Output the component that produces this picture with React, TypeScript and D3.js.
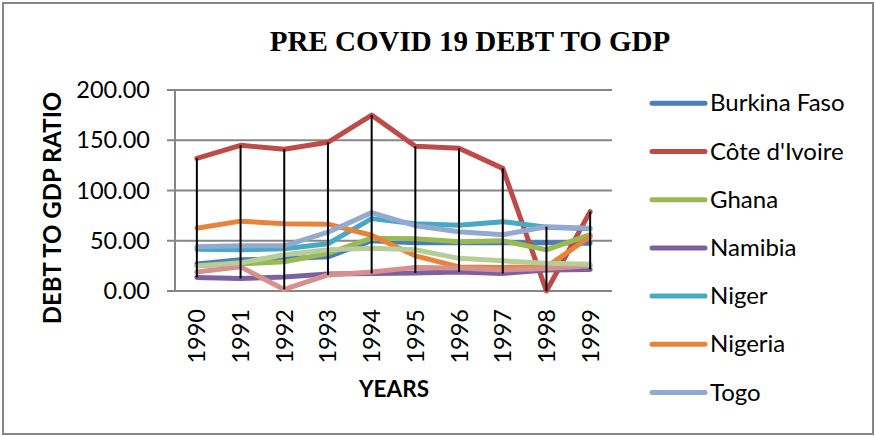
import * as d3 from 'd3'

const years = ['1990', '1991', '1992', '1993', '1994', '1995', '1996', '1997', '1998', '1999']
const yTicks = [0, 50, 100, 150, 200]

const burkinaFaso = [27, 31, 32, 34, 50, 48, 48, 48, 48, 47.5]
const coteDIvoire = [132, 145, 141, 148, 175, 144, 142, 122, 0, 79]
const ghana = [25, 27, 29, 37.5, 52.5, 52, 49, 50, 41, 56]
const namibia = [13.5, 12.5, 14, 17, 17.5, 18, 19, 17.5, 21, 21.5]
const niger = [41.5, 41, 42, 47, 72, 67, 65.5, 69, 63.5, 62]
const nigeria = [62.5, 69.5, 67, 66.5, 55.5, 35, 24, 23.5, 24, 54]
const togo = [44, 45, 45, 58.5, 78, 65, 59, 56, 64, 62.5]
// two more series are drawn but cut off from the legend in the original
const series8 = [19, 24, 1.5, 16, 19, 23.5, 23, 21, 22.5, 25]
const series9 = [25, 28, 36, 41, 42.5, 41, 32.5, 30, 27.5, 26.5]

const seriesNames = ['Burkina Faso', "Côte d'Ivoire", 'Ghana', 'Namibia', 'Niger', 'Nigeria', 'Togo', 'Series 8', 'Series 9']
const seriesValues = [burkinaFaso, coteDIvoire, ghana, namibia, niger, nigeria, togo, series8, series9]
const colors = ['#4A7EBB', '#BE4B48', '#98B954', '#7D60A0', '#46AAC5', '#E8843A', '#93A9CF', '#D7908E', '#B7CD97']
const legendCount = 7

const W = 875
const H = 436
const plot = { left: 175, right: 612, top: 90, bottom: 291 }

const font = 'Lato, "Open Sans", sans-serif'

export default function App() {
  const x = d3
    .scaleBand<string>()
    .domain(years)
    .range([plot.left, plot.right])
  const cx = (yr: string) => (x(yr) || 0) + x.bandwidth() / 2
  const y = d3.scaleLinear().domain([0, 200]).range([plot.bottom, plot.top])

  const line = d3
    .line<number>()
    .x((_, i) => cx(years[i]))
    .y(d => y(d))

  const hiLo = years.map((yr, i) => {
    const vals = seriesValues.map(s => s[i])
    return { yr, hi: d3.max(vals) || 0, lo: d3.min(vals) || 0 }
  })

  return (
    <div style={{ position: 'absolute', left: 0, top: 0 }}>
      <svg width={W} height={H} style={{ display: 'block', background: '#fff' }}>
        <rect x={3} y={3} width={W - 5} height={H - 5} fill="#fff" stroke="#868686" strokeWidth={2} />

        <text x={470} y={51} textAnchor="middle" fontFamily='"Liberation Serif", serif' fontWeight="bold" fontSize={29}>
          PRE COVID 19 DEBT TO GDP
        </text>

        {/* gridlines */}
        {yTicks.map(t => (
          <g key={t}>
            <line x1={plot.left - 8} x2={plot.right} y1={y(t)} y2={y(t)} stroke="#868686" strokeWidth={2} />
            <text x={150} y={y(t) + 8} textAnchor="end" fontFamily={font} fontSize={23.5} fill="#000">
              {t.toFixed(2)}
            </text>
          </g>
        ))}
        <line x1={plot.left} x2={plot.left} y1={plot.top} y2={plot.bottom} stroke="#868686" strokeWidth={2} />

        {/* lines */}
        {seriesValues.map((s, i) => (
          <path
            key={seriesNames[i]}
            d={line(s) || ''}
            fill="none"
            stroke={colors[i]}
            strokeWidth={5}
            strokeLinejoin="round"
            strokeLinecap="round"
          />
        ))}

        {/* high-low lines */}
        {hiLo.map(d => (
          <line key={d.yr} x1={cx(d.yr)} x2={cx(d.yr)} y1={y(d.hi)} y2={y(d.lo)} stroke="#000" strokeWidth={2} />
        ))}

        {/* x labels */}
        {years.map(yr => (
          <text
            key={yr}
            transform={`translate(${cx(yr) + 8.5},309) rotate(-90)`}
            textAnchor="end"
            fontFamily={font}
            fontSize={23.5}
          >
            {yr}
          </text>
        ))}

        <text x={394} y={397} textAnchor="middle" fontFamily={font} fontWeight="bold" fontSize={22.5}>
          YEARS
        </text>
        <text
          transform="translate(61,208) rotate(-90)"
          textAnchor="middle"
          fontFamily={font}
          fontWeight="bold"
          fontSize={24}
        >
          DEBT TO GDP RATIO
        </text>

        {/* legend */}
        {seriesNames.slice(0, legendCount).map((name, i) => {
          const ly = 103.3 + i * 48.2
          return (
            <g key={name}>
              <line x1={652} x2={705} y1={ly} y2={ly} stroke={colors[i]} strokeWidth={5} strokeLinecap="round" />
              <text x={710} y={ly + 8} fontFamily={font} fontSize={24}>
                {name}
              </text>
            </g>
          )
        })}
      </svg>
    </div>
  )
}
